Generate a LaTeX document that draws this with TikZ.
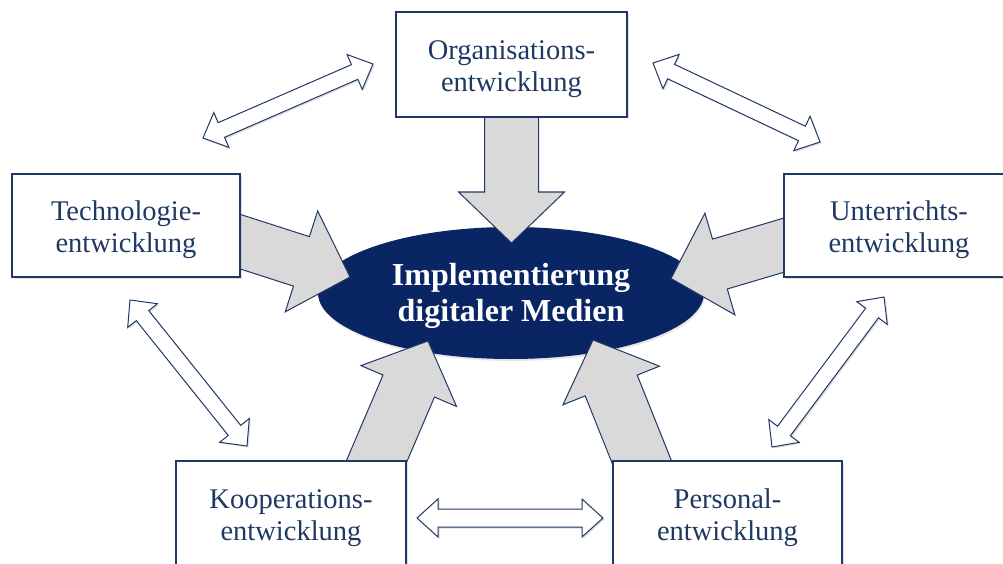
\documentclass[tikz,border=0pt]{standalone}
\usepackage{fontspec}
\setmainfont{Liberation Serif}
\usetikzlibrary{calc,shadows,shapes.geometric}

\definecolor{navy}{HTML}{1F3864}
\definecolor{deepnavy}{HTML}{0A2563}
\definecolor{arrowgray}{HTML}{D9D9D9}

\tikzset{
  box/.style={draw=navy, line width=1.1pt, fill=white, inner sep=0pt,
    drop shadow={shadow xshift=1.5pt, shadow yshift=-1.5pt, opacity=0.25}},
  boxtext/.style={text=navy, align=center, inner sep=0pt, yshift=-4.5pt,
    font=\fontsize{28.5}{32}\selectfont},
  hub/.style={ellipse, fill=deepnavy, inner sep=0pt,
    drop shadow={shadow xshift=1pt, shadow yshift=-2pt, opacity=0.2}},
  hubtext/.style={text=white, align=center, inner sep=0pt, yshift=-3pt,
    font=\bfseries\fontsize{32}{36}\selectfont},
  flow/.style={draw=navy, line width=1pt, fill=arrowgray, line join=miter},
  link/.style={draw=navy, line width=1pt, fill=white, line join=miter,
    drop shadow={shadow xshift=1.5pt, shadow yshift=-1.5pt, opacity=0.25}},
}

% block arrow: style, start, tip, shaft half width, head half width, head length
\newcommand\blockarrow[6]{%
  \coordinate (ba-h) at ($(#3)!#6!(#2)$);
  \path[#1] ($(#2)!#4!90:(#3)$) -- ($(ba-h)!#4!90:(#3)$) -- ($(ba-h)!#5!90:(#3)$)
    -- (#3) -- ($(ba-h)!#5!-90:(#3)$) -- ($(ba-h)!#4!-90:(#3)$)
    -- ($(#2)!#4!-90:(#3)$) -- cycle;
}
% two-headed outline arrow: style, end a, end b, shaft half width, head half width, head length
\newcommand\twowayarrow[6]{%
  \coordinate (da-a) at ($(#2)!#6!(#3)$);
  \coordinate (da-b) at ($(#3)!#6!(#2)$);
  \path[#1] (#2) -- ($(da-a)!#5!90:(#3)$) -- ($(da-a)!#4!90:(#3)$)
    -- ($(da-b)!#4!-90:(#2)$) -- ($(da-b)!#5!-90:(#2)$) -- (#3)
    -- ($(da-b)!#5!90:(#2)$) -- ($(da-b)!#4!90:(#2)$)
    -- ($(da-a)!#4!-90:(#3)$) -- ($(da-a)!#5!-90:(#3)$) -- cycle;
}

\begin{document}
\begin{tikzpicture}[x=1pt, y=-1pt]
\useasboundingbox (0,0) rectangle (1003,564);
\clip (0,0) rectangle (1003,564);

% central topic
\node[hub, minimum width=386pt, minimum height=132pt,
  label={[hubtext]center:{Implementierung\\digitaler Medien}}] (hub) at (511,293) {};

% anchor points of the block arrows
\coordinate (org-s) at (511.5,90);
\coordinate (org-t) at (511.5,243);
\coordinate (tec-s) at (221,235.5);
\coordinate (tec-t) at (350,277);
\coordinate (unt-s) at (803,239.5);
\coordinate (unt-t) at (671,278.5);
\coordinate (koo-s) at (369,479);
\coordinate (koo-t) at (428,341);
\coordinate (per-s) at (649,480);
\coordinate (per-t) at (593,340);

\blockarrow{flow}{org-s}{org-t}{27pt}{53pt}{51pt}
\blockarrow{flow}{tec-s}{tec-t}{26pt}{53pt}{51pt}
\blockarrow{flow}{unt-s}{unt-t}{26pt}{53pt}{51pt}
\blockarrow{flow}{koo-s}{koo-t}{28pt}{52pt}{49pt}
\blockarrow{flow}{per-s}{per-t}{28pt}{52pt}{49pt}

% fields of development
\node[box, minimum width=231pt, minimum height=105pt,
  label={[boxtext]center:{Organisations-\\entwicklung}}] (org) at (511.5,64.5) {};
\node[box, minimum width=228pt, minimum height=103pt,
  label={[boxtext]center:{Technologie-\\entwicklung}}] (tec) at (126,225.5) {};
\node[box, minimum width=230pt, minimum height=103pt,
  label={[boxtext]center:{Unterrichts-\\entwicklung}}] (unt) at (899,225.5) {};
\node[box, minimum width=230pt, minimum height=105pt,
  label={[boxtext]center:{Kooperations-\\entwicklung}}] (koo) at (291,513.5) {};
\node[box, minimum width=229pt, minimum height=105pt,
  label={[boxtext]center:{Personal-\\entwicklung}}] (per) at (727.5,513.5) {};

% mutual links between neighbouring fields
\coordinate (l1a) at (203,138);  \coordinate (l1b) at (373,64);
\coordinate (l2a) at (653,63);   \coordinate (l2b) at (820,142);
\coordinate (l3a) at (130,300);  \coordinate (l3b) at (247,446);
\coordinate (l4a) at (884,297);  \coordinate (l4b) at (772,447);
\coordinate (l5a) at (417,518);  \coordinate (l5b) at (603,518);

\twowayarrow{link}{l1a}{l1b}{8pt}{19pt}{20pt}
\twowayarrow{link}{l2a}{l2b}{8pt}{19pt}{20pt}
\twowayarrow{link}{l3a}{l3b}{8pt}{19pt}{20pt}
\twowayarrow{link}{l4a}{l4b}{8pt}{19pt}{20pt}
\twowayarrow{link}{l5a}{l5b}{9pt}{19pt}{21pt}
\end{tikzpicture}
\end{document}
